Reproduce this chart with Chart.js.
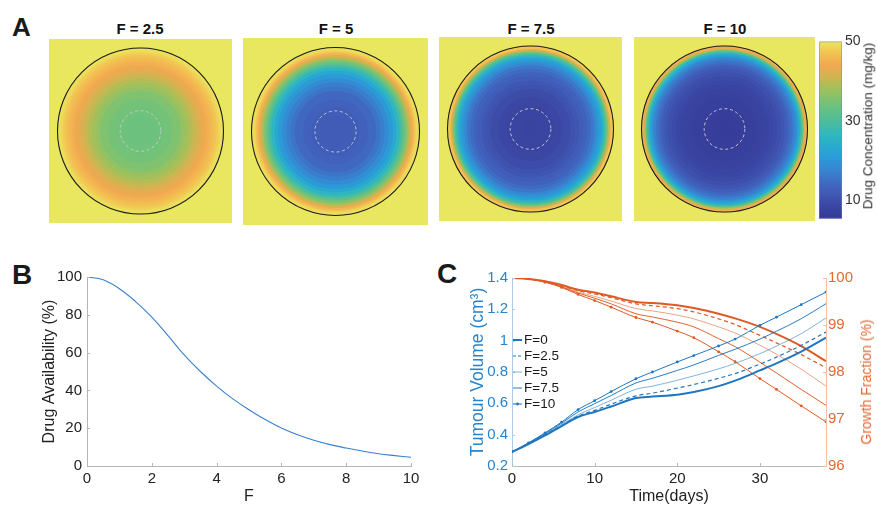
<!DOCTYPE html>
<html><head><meta charset="utf-8">
<script src="https://cdn.jsdelivr.net/npm/chart.js@4.4.1/dist/chart.umd.min.js"></script>
<style>
html,body{margin:0;padding:0;background:#fff;}
body{width:877px;height:508px;position:relative;overflow:hidden;font-family:'Liberation Sans',Arial,sans-serif;}
canvas{position:absolute;}
.lbl{position:absolute;font-weight:bold;color:#1a1a1a;line-height:1;}
.ttl{position:absolute;font-weight:bold;font-size:15px;line-height:1;color:#111;transform:translateX(-50%);white-space:nowrap;}
.rot{position:absolute;white-space:nowrap;line-height:1;transform:translate(-50%,-50%) rotate(-90deg);}
.leg{position:absolute;font-size:13.5px;line-height:1;color:#1a1a1a;white-space:nowrap;}
.legs{position:absolute;}
</style></head><body>

<div class="lbl" style="left:12px;top:14px;font-size:26px;">A</div>
<div class="lbl" style="left:12px;top:261px;font-size:28px;">B</div>
<div class="lbl" style="left:437px;top:260px;font-size:28px;">C</div>

<div id="titles"></div>

<canvas id="h0" width="183" height="184" style="left:49px;top:39px;"></canvas>
<canvas id="h1" width="185" height="187" style="left:243px;top:38px;"></canvas>
<canvas id="h2" width="183" height="184" style="left:439px;top:37px;"></canvas>
<canvas id="h3" width="181" height="184" style="left:634px;top:37px;"></canvas>
<canvas id="cbar" width="62" height="200" style="left:815px;top:30px;"></canvas>
<div class="rot" style="left:868px;top:126px;font-size:13.5px;color:#333;">Drug Concentration (mg/kg)</div>

<canvas id="cB" width="430" height="250" style="left:0px;top:258px;"></canvas>
<canvas id="cC" width="447" height="250" style="left:430px;top:258px;"></canvas>
<div class="rot" style="left:866px;top:382px;font-size:14px;color:#e26a35;">Growth Fraction (%)</div>
<div id="legend"></div>

<script>
// ---------------- DATA ----------------
// Panel A: radial drug concentration profiles (mg/kg), sampled on rings
const heatTitles = ['F = 2.5', 'F = 5', 'F = 7.5', 'F = 10'];
// outer edge of each ring, as a fraction of tumour radius (centre -> rim)
const ringOuterRadius = [0.1,0.2,0.3,0.4,0.5,0.55,0.6,0.65,0.7,0.74,0.78,0.81,0.84,0.87,0.89,0.91,0.93,0.95,0.965,0.98,0.99,1.0];
const concF2_5 = [33.5,33.6,33.9,34.4,35.3,36.9,38.0,39.3,40.7,42.0,43.1,44.0,44.8,45.5,46.1,46.6,47.1,47.7,48.3,48.9,49.4,49.8];
const concF5   = [12.0,12.1,12.3,12.9,13.9,15.5,16.8,18.5,20.5,23.0,26.0,29.0,32.0,35.5,38.5,41.0,43.5,45.5,47.0,48.3,49.2,49.8];
const concF7_5 = [7.8,7.9,8.2,8.7,9.5,10.4,11.2,12.2,13.0,14.2,15.8,17.5,19.5,21.5,24.0,27.0,30.5,35.0,39.5,43.5,47.0,49.3];
const concF10  = [6.5,6.5,6.7,7.0,7.5,8.1,8.6,9.3,10.2,11.2,12.4,13.8,15.3,17.2,19.3,21.5,24.5,28.5,33.0,38.5,44.0,48.5];
const outsideConc = 50;
const colorbarTicks = [10, 30, 50];
const CB_MIN = 5.3, CB_MAX = 50;

// Panel B
const availabilityF   = [0,0.5,1,1.5,2,2.5,3,3.5,4,4.5,5,5.5,6,6.5,7,7.5,8,8.5,9,9.5,10];
const availabilityPct = [100,98.5,93.8,87,78.8,69,58.8,50,42.3,35.5,29.8,24.6,20.1,16.5,13.6,11.3,9.5,7.9,6.5,5.5,4.6];

// Panel C
const timeDays = [0,2,4,6,8,10,12,15,17,20,22,25,27,30,32,35,38];
const volF0   = [0.29,0.340,0.395,0.455,0.513,0.545,0.580,0.634,0.643,0.655,0.672,0.710,0.745,0.810,0.855,0.930,1.019];
const volF2_5 = [0.29,0.342,0.398,0.458,0.518,0.555,0.595,0.648,0.665,0.697,0.720,0.760,0.790,0.850,0.895,0.970,1.055];
const volF5   = [0.29,0.344,0.402,0.465,0.527,0.573,0.620,0.690,0.710,0.747,0.775,0.820,0.855,0.917,0.965,1.045,1.145];
const volF7_5 = [0.29,0.346,0.407,0.473,0.545,0.598,0.650,0.730,0.760,0.810,0.845,0.906,0.945,1.010,1.060,1.140,1.236];
const volF10  = [0.29,0.348,0.412,0.480,0.560,0.617,0.675,0.757,0.800,0.864,0.905,0.966,1.010,1.098,1.150,1.230,1.310];
const gfF0   = [100,99.98,99.93,99.85,99.75,99.69,99.61,99.49,99.47,99.42,99.36,99.24,99.14,98.96,98.81,98.55,98.23];
const gfF2_5 = [100,99.98,99.93,99.84,99.73,99.66,99.58,99.45,99.41,99.35,99.28,99.13,99.01,98.78,98.62,98.37,98.09];
const gfF5   = [100,99.98,99.92,99.82,99.70,99.61,99.51,99.35,99.30,99.21,99.13,98.96,98.83,98.57,98.38,98.06,97.70];
const gfF7_5 = [100,99.98,99.92,99.81,99.68,99.57,99.45,99.24,99.17,99.06,98.96,98.71,98.54,98.21,97.98,97.63,97.29];
const gfF10  = [100,99.98,99.91,99.80,99.65,99.52,99.38,99.16,99.06,98.87,98.73,98.43,98.22,97.86,97.63,97.28,96.94];
const legendLabels = ['F=0', 'F=2.5', 'F=5', 'F=7.5', 'F=10'];

// ---------------- STYLE ----------------
Chart.defaults.font.family = "'Liberation Sans', Arial, sans-serif";
const CMAP_STOPS = [
  [0.00, 52, 56, 150],[0.08, 60, 72, 165],[0.18, 65, 100, 190],[0.28, 55, 135, 210],
  [0.36, 40, 160, 215],[0.46, 45, 182, 195],[0.56, 80, 190, 150],[0.65, 115, 194, 120],
  [0.74, 165, 192, 88],[0.81, 215, 178, 80],[0.87, 242, 168, 80],[0.94, 242, 198, 82],[1.00, 233, 230, 95]
];
function cmap(v){
  let t = (v - CB_MIN) / (CB_MAX - CB_MIN);
  t = Math.max(0, Math.min(1, t));
  for (let i = 1; i < CMAP_STOPS.length; i++){
    const a = CMAP_STOPS[i-1], b = CMAP_STOPS[i];
    if (t <= b[0]){
      const u = (t - a[0]) / (b[0] - a[0]);
      return 'rgb(' + [1,2,3].map(k => Math.round(a[k] + (b[k]-a[k])*u)).join(',') + ')';
    }
  }
  const l = CMAP_STOPS[CMAP_STOPS.length-1];
  return 'rgb(' + l[1] + ',' + l[2] + ',' + l[3] + ')';
}
const BLUE = '#1f76c0', ORANGE = '#dd5a24';
const BLUE_T = '#2a84cc', ORANGE_T = '#e26a35';
const TXT = '#222';

// inward tick marks (MATLAB style)
const inwardTicks = {
  id: 'inwardTicks',
  afterDatasetsDraw(chart){
    const ctx = chart.ctx, a = chart.chartArea;
    ctx.save();
    ctx.lineWidth = 1;
    Object.values(chart.scales).forEach(s => {
      if (!s.options.display) return;
      const col = s.options.border && s.options.border.color ? s.options.border.color : '#bbb';
      ctx.strokeStyle = col;
      s.ticks.forEach(t => {
        const p = Math.round(s.getPixelForValue(t.value)) + 0.5;
        ctx.beginPath();
        if (s.isHorizontal()){ ctx.moveTo(p, a.bottom); ctx.lineTo(p, a.bottom - 3); }
        else if (s.position === 'left'){ ctx.moveTo(a.left, p); ctx.lineTo(a.left + 3, p); }
        else { ctx.moveTo(a.right, p); ctx.lineTo(a.right - 3, p); }
        ctx.stroke();
      });
    });
    ctx.restore();
  }
};

// ---------------- PANEL A ----------------
const heatProfiles = [concF2_5, concF5, concF7_5, concF10];
const heatRadius = [83, 84, 83, 83];
const tumourOverlay = {
  id: 'tumourOverlay',
  afterDraw(chart){
    const arc = chart.getDatasetMeta(0).data[0];
    if (!arc) return;
    const ctx = chart.ctx;
    ctx.save();
    ctx.beginPath();
    ctx.arc(arc.x, arc.y, arc.outerRadius, 0, Math.PI*2);
    ctx.strokeStyle = '#1b1b1b'; ctx.lineWidth = 1.1; ctx.stroke();
    ctx.beginPath();
    ctx.setLineDash([3, 2.6]);
    ctx.arc(arc.x, arc.y, arc.outerRadius*0.245, 0, Math.PI*2);
    ctx.strokeStyle = 'rgba(200,200,200,0.95)'; ctx.lineWidth = 1; ctx.stroke();
    ctx.restore();
  }
};
const titlesDiv = document.getElementById('titles');
const titleX = [140, 336, 531, 725];
heatTitles.forEach((t, i) => {
  const d = document.createElement('div');
  d.className = 'ttl'; d.textContent = t;
  d.style.left = titleX[i] + 'px'; d.style.top = '21px';
  titlesDiv.appendChild(d);
});
heatProfiles.forEach((prof, k) => {
  const cv = document.getElementById('h' + k);
  cv.style.background = cmap(outsideConc);
  const datasets = [];
  for (let i = prof.length - 1; i >= 0; i--){
    const inner = i === 0 ? 0 : ringOuterRadius[i-1];
    const c = cmap(prof[i]);
    datasets.push({ data: [1], backgroundColor: c, borderColor: c, borderWidth: i === prof.length - 1 ? 0 : 2.5, weight: ringOuterRadius[i] - inner });
  }
  new Chart(cv, {
    type: 'doughnut',
    data: { labels: ['c'], datasets },
    options: {
      responsive: false, animation: false, events: [],
      radius: heatRadius[k], cutout: 0,
      layout: { padding: 0 },
      plugins: { legend: { display: false }, tooltip: { enabled: false } }
    },
    plugins: [tumourOverlay]
  });
});

// colorbar
const colorbarPlugin = {
  id: 'cbarFill',
  beforeDatasetsDraw(chart){
    const a = chart.chartArea, s = chart.scales.y, ctx = chart.ctx;
    const g = ctx.createLinearGradient(0, a.bottom, 0, a.top);
    for (let k = 0; k <= 60; k++){
      const v = CB_MIN + (CB_MAX - CB_MIN) * k / 60;
      const p = s.getPixelForValue(v);
      g.addColorStop(Math.max(0, Math.min(1, (a.bottom - p) / (a.bottom - a.top))), cmap(v));
    }
    ctx.save();
    ctx.fillStyle = g;
    ctx.fillRect(a.left, a.top, a.right - a.left, a.bottom - a.top);
    ctx.strokeStyle = 'rgba(120,130,190,0.45)'; ctx.lineWidth = 1;
    ctx.strokeRect(a.left + 0.5, a.top + 0.5, a.right - a.left - 1, a.bottom - a.top - 1);
    ctx.restore();
  }
};
new Chart(document.getElementById('cbar'), {
  type: 'bar',
  data: { labels: [''], datasets: [] },
  options: {
    responsive: false, animation: false, events: [],
    layout: { padding: { left: 4, right: 0, top: 7, bottom: 9 } },
    plugins: { legend: { display: false }, tooltip: { enabled: false } },
    scales: {
      x: { display: false },
      y: {
        position: 'right', min: CB_MIN, max: CB_MAX,
        afterBuildTicks(s){ s.ticks = colorbarTicks.map(v => ({ value: v })); },
        ticks: { color: '#333', font: { size: 14 }, padding: 3 },
        grid: { display: false, drawTicks: false }, border: { display: false },
        afterFit(s){ s.width = 35; }
      }
    }
  },
  plugins: [colorbarPlugin]
});

// ---------------- PANEL B ----------------
new Chart(document.getElementById('cB'), {
  type: 'line',
  data: { datasets: [{
    data: availabilityF.map((f, i) => ({ x: f, y: availabilityPct[i] })),
    borderColor: '#3a80cd', borderWidth: 1.1, pointRadius: 0, fill: false,
    tension: 0.4
  }]},
  options: {
    responsive: false, animation: false, events: [],
    layout: { padding: { left: 0, right: 19, top: 19, bottom: 0 } },
    plugins: { legend: { display: false }, tooltip: { enabled: false } },
    scales: {
      x: {
        type: 'linear', min: 0, max: 10,
        ticks: { stepSize: 2, color: TXT, font: { size: 15 }, padding: 4, maxRotation: 0 },
        grid: { display: false, drawTicks: false }, border: { color: '#b5b5b5' },
        title: { display: true, text: 'F', color: TXT, font: { size: 16 }, padding: { top: 0, bottom: 1.4 } },
        afterFit(s){ s.height = 42; }
      },
      y: {
        min: 0, max: 100,
        ticks: { stepSize: 20, color: TXT, font: { size: 15 }, padding: 5 },
        grid: { display: false, drawTicks: false }, border: { color: '#b5b5b5' },
        title: { display: true, text: 'Drug Availability (%)', color: TXT, font: { size: 16 }, padding: { top: 40.4, bottom: 0 } },
        afterFit(s){ s.width = 87; }
      }
    }
  },
  plugins: [inwardTicks]
});

// ---------------- PANEL C ----------------
const volSeries = [volF0, volF2_5, volF5, volF7_5, volF10];
const gfSeries  = [gfF0, gfF2_5, gfF5, gfF7_5, gfF10];
const lineStyles = [
  { w: 2.0, dash: [], alpha: 1, pr: 0 },
  { w: 1.2, dash: [4, 3], alpha: 1, pr: 0 },
  { w: 0.8, dash: [], alpha: 0.7, pr: 0 },
  { w: 1.0, dash: [], alpha: 0.95, pr: 0 },
  { w: 1.0, dash: [], alpha: 1, pr: 1.4 }
];
function rgba(hex, a){
  const n = parseInt(hex.slice(1), 16);
  return 'rgba(' + (n >> 16) + ',' + ((n >> 8) & 255) + ',' + (n & 255) + ',' + a + ')';
}
const cDatasets = [];
volSeries.forEach((s, i) => {
  const st = lineStyles[i];
  cDatasets.push({
    label: legendLabels[i], yAxisID: 'yL',
    data: timeDays.map((t, j) => ({ x: t, y: s[j] })),
    borderColor: rgba(BLUE, st.alpha), backgroundColor: rgba(BLUE, st.alpha),
    borderWidth: st.w, borderDash: st.dash, pointRadius: st.pr, pointBorderWidth: 0,
    fill: false, cubicInterpolationMode: 'monotone'
  });
});
gfSeries.forEach((s, i) => {
  const st = lineStyles[i];
  cDatasets.push({
    label: legendLabels[i] + ' GF', yAxisID: 'yR',
    data: timeDays.map((t, j) => ({ x: t, y: s[j] })),
    borderColor: rgba(ORANGE, st.alpha), backgroundColor: rgba(ORANGE, st.alpha),
    borderWidth: st.w, borderDash: st.dash, pointRadius: st.pr, pointBorderWidth: 0,
    fill: false, cubicInterpolationMode: 'monotone'
  });
});
new Chart(document.getElementById('cC'), {
  type: 'line',
  data: { datasets: cDatasets },
  options: {
    responsive: false, animation: false, events: [],
    layout: { padding: { left: 0, right: 0, top: 20, bottom: 0 } },
    plugins: { legend: { display: false }, tooltip: { enabled: false } },
    scales: {
      x: {
        type: 'linear', min: 0, max: 38,
        afterBuildTicks(s){ s.ticks = s.ticks.filter(t => t.value % 10 === 0); },
        ticks: { stepSize: 10, color: TXT, font: { size: 15 }, padding: 4, maxRotation: 0 },
        grid: { display: false, drawTicks: false }, border: { color: '#b8b8b8' },
        title: { display: true, text: 'Time(days)', color: TXT, font: { size: 16 }, padding: { top: 0, bottom: 1.4 } },
        afterFit(s){ s.height = 42; }
      },
      yL: {
        position: 'left', min: 0.2, max: 1.4,
        ticks: { stepSize: 0.2, color: BLUE_T, font: { size: 15 }, padding: 4,
                 callback: v => String(Number(Number(v).toFixed(1))) },
        grid: { display: false, drawTicks: false }, border: { color: '#a9cbe9' },
        title: { display: true, text: 'Tumour Volume (cm³)', color: BLUE_T, font: { size: 17.5 }, padding: { top: 37.5, bottom: 0 } },
        afterFit(s){ s.width = 82; }
      },
      yR: {
        position: 'right', min: 96, max: 100,
        ticks: { stepSize: 1, color: ORANGE_T, font: { size: 15 }, padding: 2 },
        grid: { display: false, drawTicks: false }, border: { color: '#f3c0a8' },
        afterFit(s){ s.width = 51; }
      }
    }
  },
  plugins: [inwardTicks]
});

// legend (blue series only, as in the reference)
const legDiv = document.getElementById('legend');
const legRowY = [340, 356, 372, 388, 404];
legendLabels.forEach((lab, i) => {
  const st = lineStyles[i];
  const svg = document.createElementNS('http://www.w3.org/2000/svg', 'svg');
  svg.setAttribute('width', '11'); svg.setAttribute('height', '8');
  svg.setAttribute('class', 'legs');
  svg.style.left = '512px'; svg.style.top = (legRowY[i] - 4) + 'px';
  const ln = document.createElementNS('http://www.w3.org/2000/svg', 'line');
  ln.setAttribute('x1', '1'); ln.setAttribute('x2', '10'); ln.setAttribute('y1', '4'); ln.setAttribute('y2', '4');
  ln.setAttribute('stroke', rgba(BLUE, st.alpha)); ln.setAttribute('stroke-width', st.w);
  if (st.dash.length) ln.setAttribute('stroke-dasharray', '3 2');
  svg.appendChild(ln);
  if (st.pr){
    const c = document.createElementNS('http://www.w3.org/2000/svg', 'circle');
    c.setAttribute('cx', '5.5'); c.setAttribute('cy', '4'); c.setAttribute('r', '1.4'); c.setAttribute('fill', BLUE);
    svg.appendChild(c);
  }
  legDiv.appendChild(svg);
  const d = document.createElement('div');
  d.className = 'leg'; d.textContent = lab;
  d.style.left = '524px'; d.style.top = (legRowY[i] - 7) + 'px';
  legDiv.appendChild(d);
});
</script>
</body></html>
